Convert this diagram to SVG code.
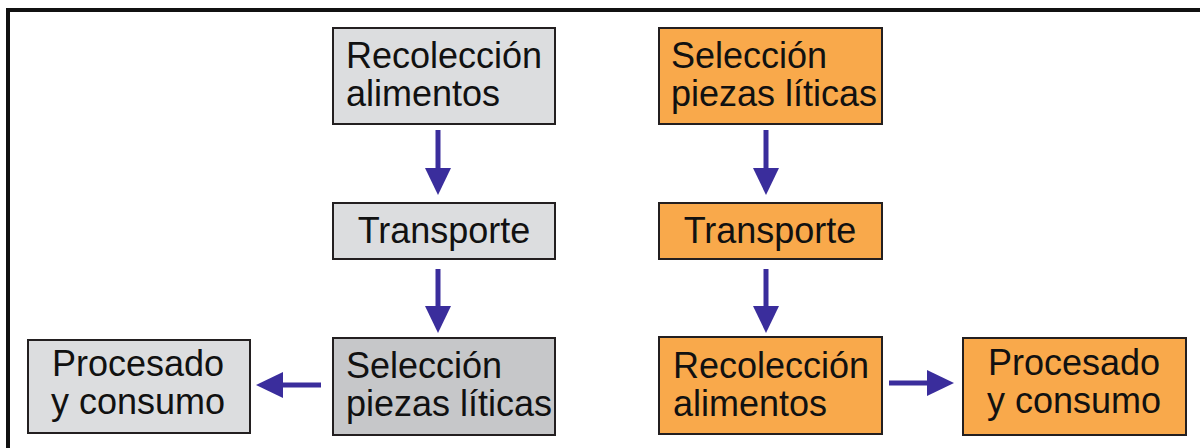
<svg xmlns="http://www.w3.org/2000/svg" width="1200" height="448" viewBox="0 0 1200 448">
<style>
.box{stroke:#231f20;stroke-width:2}
.gray{fill:#dcdddf}
.dgray{fill:#c6c7c9}
.orange{fill:#f9a94b}
text{font-family:"Liberation Sans",Arial,sans-serif;font-size:36px;fill:#111}
.c{text-anchor:middle}
.arrow{stroke:#3a2d9c;stroke-width:5;fill:none;marker-end:url(#ah)}
</style>
<defs>
<marker id="ah" markerUnits="userSpaceOnUse" markerWidth="28" markerHeight="28" refX="0" refY="13" orient="auto">
<path d="M0,0 L27,13 L0,26 z" fill="#3a2d9c"/>
</marker>
</defs>
<rect x="0" y="0" width="1200" height="448" fill="#fff"/>
<g id="frame">
<line x1="6" y1="10" x2="1200" y2="10" stroke="#111" stroke-width="4"/>
<line x1="8" y1="8" x2="8" y2="448" stroke="#111" stroke-width="4"/>
</g>
<g id="g-recoleccion">
<rect class="box gray" x="333" y="28" width="222" height="96"/>
<text x="346" y="68">Recolección</text>
<text x="346" y="106">alimentos</text>
</g>
<g id="g-transporte">
<rect class="box gray" x="333" y="203" width="222" height="56"/>
<text class="c" x="444" y="243">Transporte</text>
</g>
<g id="g-seleccion">
<rect class="box dgray" x="333" y="338" width="222" height="97"/>
<text x="346" y="378">Selección</text>
<text x="346" y="416">piezas líticas</text>
</g>
<g id="g-procesado">
<rect class="box gray" x="28" y="340" width="222" height="93"/>
<text class="c" x="138" y="376">Procesado</text>
<text class="c" x="138" y="414">y consumo</text>
</g>
<g id="o-seleccion">
<rect class="box orange" x="659" y="28" width="223" height="96"/>
<text x="671" y="68">Selección</text>
<text x="671" y="106">piezas líticas</text>
</g>
<g id="o-transporte">
<rect class="box orange" x="659" y="203" width="223" height="56"/>
<text class="c" x="770" y="243">Transporte</text>
</g>
<g id="o-recoleccion">
<rect class="box orange" x="659" y="337" width="223" height="97"/>
<text x="673" y="378">Recolección</text>
<text x="673" y="416">alimentos</text>
</g>
<g id="o-procesado">
<rect class="box orange" x="963" y="338" width="223" height="97"/>
<text class="c" x="1074" y="375">Procesado</text>
<text class="c" x="1074" y="413">y consumo</text>
</g>
<g id="connectors">
<line class="arrow" x1="438" y1="130" x2="438" y2="168"/>
<line class="arrow" x1="438" y1="269" x2="438" y2="306"/>
<line class="arrow" x1="321" y1="385" x2="283" y2="385"/>
<line class="arrow" x1="766" y1="130" x2="766" y2="168"/>
<line class="arrow" x1="766" y1="269" x2="766" y2="306"/>
<line class="arrow" x1="889" y1="383" x2="927" y2="383"/>
</g>
</svg>
